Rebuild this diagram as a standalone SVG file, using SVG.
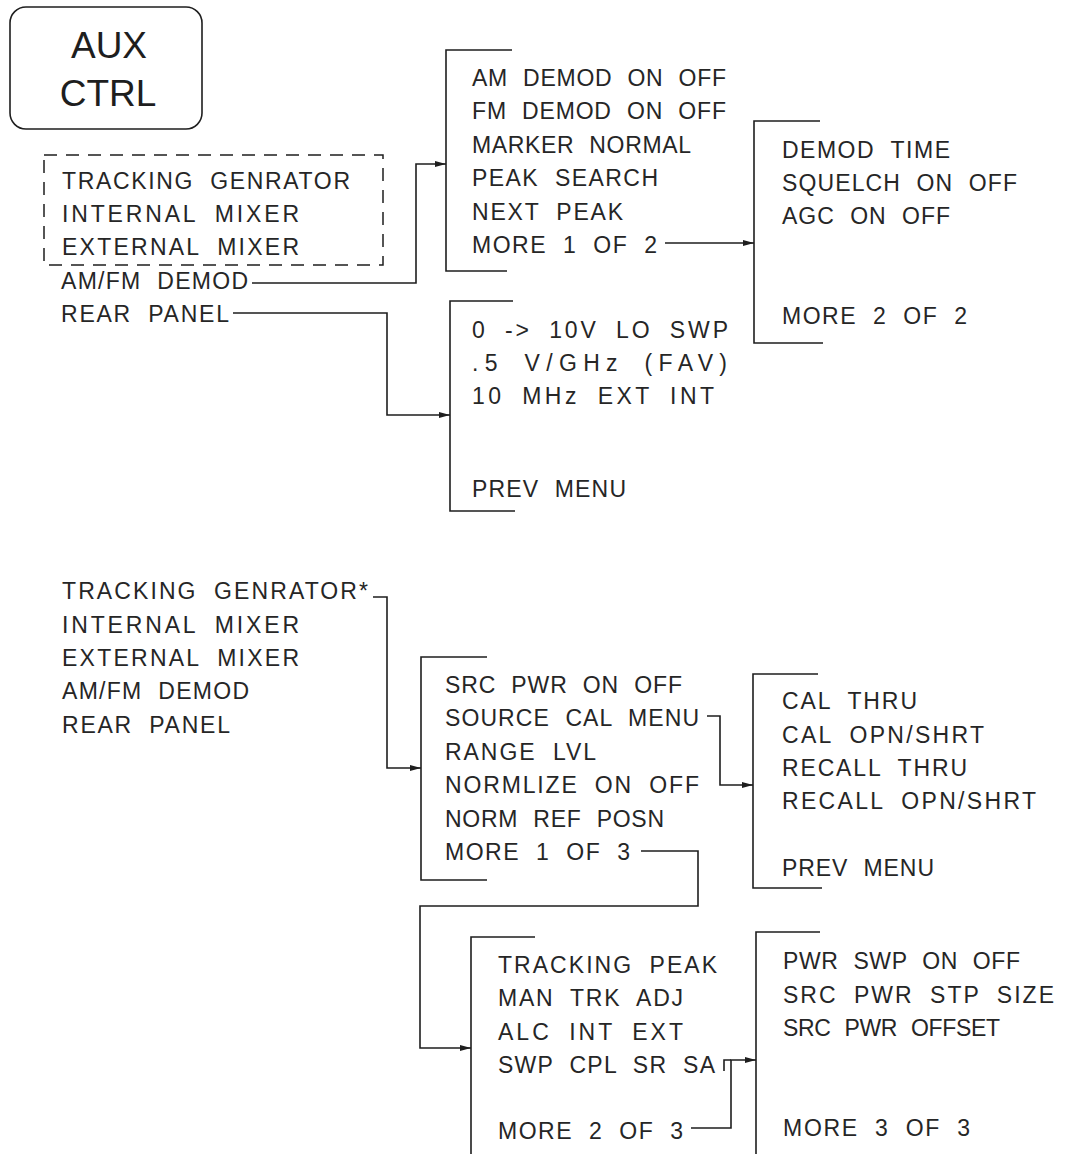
<svg xmlns="http://www.w3.org/2000/svg" width="1068" height="1154" viewBox="0 0 1068 1154">
<style>
  .t { font-family: "Liberation Sans", Arial, sans-serif; font-size: 23px; fill: #262626; word-spacing: 8px; }
  .big { font-family: "Liberation Sans", Arial, sans-serif; font-size: 37px; fill: #1e1e1e; text-anchor: middle; }
  .br { fill: none; stroke: #1e1e1e; stroke-width: 1.6; }
  .dash { fill: none; stroke: #1e1e1e; stroke-width: 1.5; stroke-dasharray: 13 9; }
  .c { fill: none; stroke: #1e1e1e; stroke-width: 1.6; }
  .ca { fill: none; stroke: #1e1e1e; stroke-width: 1.6; marker-end: url(#arr); }
</style>
<defs>
  <marker id="arr" markerUnits="userSpaceOnUse" markerWidth="12" markerHeight="8" refX="11" refY="4" orient="auto">
    <path d="M0,1 L11,4 L0,7 z" fill="#1e1e1e"/>
  </marker>
</defs>
<rect width="1068" height="1154" fill="#ffffff"/>

<g id="aux-ctrl">
  <rect x="10" y="7" width="192" height="122" rx="16" ry="16" class="br"/>
  <text class="big" x="109" y="58">AUX</text>
  <text class="big" x="108" y="106">CTRL</text>
</g>

<g id="aux-menu-top">
  <rect x="44" y="155" width="339" height="110" class="dash"/>
  <text class="t" x="62" y="189" textLength="288" lengthAdjust="spacing">TRACKING GENRATOR</text>
  <text class="t" x="62" y="222" textLength="237" lengthAdjust="spacing">INTERNAL MIXER</text>
  <text class="t" x="62" y="255" textLength="237" lengthAdjust="spacing">EXTERNAL MIXER</text>
  <text class="t" x="61" y="289" textLength="187" lengthAdjust="spacing">AM/FM DEMOD</text>
  <text class="t" x="61" y="322" textLength="168" lengthAdjust="spacing">REAR PANEL</text>
</g>

<g id="demod-menu-1">
  <path class="br" d="M512,50 H446 V271 H507"/>
  <text class="t" x="472" y="86" textLength="254" lengthAdjust="spacing">AM DEMOD ON OFF</text>
  <text class="t" x="472" y="119" textLength="254" lengthAdjust="spacing">FM DEMOD ON OFF</text>
  <text class="t" x="472" y="153" textLength="219" lengthAdjust="spacing">MARKER NORMAL</text>
  <text class="t" x="472" y="186" textLength="186" lengthAdjust="spacing">PEAK SEARCH</text>
  <text class="t" x="472" y="220" textLength="151" lengthAdjust="spacing">NEXT PEAK</text>
  <text class="t" x="472" y="253" textLength="185" lengthAdjust="spacing">MORE 1 OF 2</text>
</g>

<g id="demod-menu-2">
  <path class="br" d="M820,121 H754 V343 H823"/>
  <text class="t" x="782" y="158" textLength="168" lengthAdjust="spacing">DEMOD TIME</text>
  <text class="t" x="782" y="191" textLength="235" lengthAdjust="spacing">SQUELCH ON OFF</text>
  <text class="t" x="782" y="224" textLength="168" lengthAdjust="spacing">AGC ON OFF</text>
  <text class="t" x="782" y="324" textLength="185" lengthAdjust="spacing">MORE 2 OF 2</text>
</g>

<g id="rear-panel-menu">
  <path class="br" d="M513,301 H450 V511 H515"/>
  <text class="t" x="472" y="338" textLength="256" lengthAdjust="spacing">0 -&gt; 10V LO SWP</text>
  <text class="t" x="472" y="371" textLength="255" lengthAdjust="spacing">.5 V/GHz (FAV)</text>
  <text class="t" x="472" y="404" textLength="242" lengthAdjust="spacing">10 MHz EXT INT</text>
  <text class="t" x="472" y="497" textLength="154" lengthAdjust="spacing">PREV MENU</text>
</g>

<g id="aux-menu-bottom">
  <text class="t" x="62" y="599" textLength="306" lengthAdjust="spacing">TRACKING GENRATOR*</text>
  <text class="t" x="62" y="633" textLength="237" lengthAdjust="spacing">INTERNAL MIXER</text>
  <text class="t" x="62" y="666" textLength="237" lengthAdjust="spacing">EXTERNAL MIXER</text>
  <text class="t" x="62" y="699" textLength="187" lengthAdjust="spacing">AM/FM DEMOD</text>
  <text class="t" x="62" y="733" textLength="168" lengthAdjust="spacing">REAR PANEL</text>
</g>

<g id="tg-menu-1">
  <path class="br" d="M487,657 H421 V880 H487"/>
  <text class="t" x="445" y="693" textLength="237" lengthAdjust="spacing">SRC PWR ON OFF</text>
  <text class="t" x="445" y="726" textLength="254" lengthAdjust="spacing">SOURCE CAL MENU</text>
  <text class="t" x="445" y="760" textLength="151" lengthAdjust="spacing">RANGE LVL</text>
  <text class="t" x="445" y="793" textLength="254" lengthAdjust="spacing">NORMLIZE ON OFF</text>
  <text class="t" x="445" y="827" textLength="219" lengthAdjust="spacing">NORM REF POSN</text>
  <text class="t" x="445" y="860" textLength="185" lengthAdjust="spacing">MORE 1 OF 3</text>
</g>

<g id="source-cal-menu">
  <path class="br" d="M818,674 H753 V888 H822"/>
  <text class="t" x="782" y="709" textLength="135" lengthAdjust="spacing">CAL THRU</text>
  <text class="t" x="782" y="743" textLength="202" lengthAdjust="spacing">CAL OPN/SHRT</text>
  <text class="t" x="782" y="776" textLength="185" lengthAdjust="spacing">RECALL THRU</text>
  <text class="t" x="782" y="809" textLength="254" lengthAdjust="spacing">RECALL OPN/SHRT</text>
  <text class="t" x="782" y="876" textLength="152" lengthAdjust="spacing">PREV MENU</text>
</g>

<g id="tg-menu-2">
  <path class="br" d="M535,937 H471 V1154"/>
  <text class="t" x="498" y="973" textLength="219" lengthAdjust="spacing">TRACKING PEAK</text>
  <text class="t" x="498" y="1006" textLength="185" lengthAdjust="spacing">MAN TRK ADJ</text>
  <text class="t" x="498" y="1040" textLength="185" lengthAdjust="spacing">ALC INT EXT</text>
  <text class="t" x="498" y="1073" textLength="217" lengthAdjust="spacing">SWP CPL SR SA</text>
  <text class="t" x="498" y="1139" textLength="185" lengthAdjust="spacing">MORE 2 OF 3</text>
</g>

<g id="tg-menu-3">
  <path class="br" d="M820,932 H756 V1154"/>
  <text class="t" x="783" y="969" textLength="237" lengthAdjust="spacing">PWR SWP ON OFF</text>
  <text class="t" x="783" y="1003" textLength="271" lengthAdjust="spacing">SRC PWR STP SIZE</text>
  <text class="t" x="783" y="1036" textLength="217" lengthAdjust="spacing">SRC PWR OFFSET</text>
  <text class="t" x="783" y="1136" textLength="187" lengthAdjust="spacing">MORE 3 OF 3</text>
</g>

<g id="connectors">
  <path class="ca" d="M252,283 H416 V164 H446"/>
  <path class="ca" d="M233,313 H387 V415 H450"/>
  <path class="ca" d="M665,243 H754"/>
  <path class="ca" d="M373,597 H387 V768 H421"/>
  <path class="ca" d="M707,716 H720 V785 H753"/>
  <path class="ca" d="M641,851 H698 V906 H420 V1048 H471"/>
  <path class="ca" d="M691,1128 H731 V1060 H756"/>
  <path class="c" d="M724,1071 V1060 H731"/>
</g>
</svg>
